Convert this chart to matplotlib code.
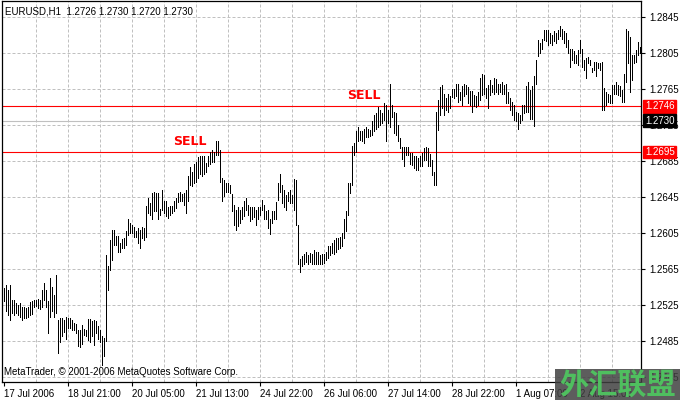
import matplotlib
matplotlib.use("Agg")
import matplotlib.pyplot as plt
import matplotlib.transforms as mtransforms
from matplotlib.patches import Rectangle
import numpy as np

plt.rcParams['font.family'] = ['Liberation Sans', 'DejaVu Sans']
plt.rcParams['font.size'] = 7

# EURUSD H1 bars (high / low), 17 Jul 2006 - 2 Aug 2006
highs = [
    1.2544, 1.2547, 1.2542, 1.2547, 1.2531, 1.2531, 1.2527, 1.2525, 1.2527, 1.2523,
    1.2523, 1.2522, 1.2523, 1.2528, 1.2529, 1.2530, 1.2531, 1.2532, 1.2530, 1.2542,
    1.2549, 1.2542, 1.2529, 1.2555, 1.2545, 1.2536, 1.2558, 1.2508, 1.2510, 1.2510,
    1.2508, 1.2512, 1.2510, 1.2510, 1.2508, 1.2505, 1.2504, 1.2497, 1.2497, 1.2503,
    1.2498, 1.2497, 1.2509, 1.2509, 1.2507, 1.2508, 1.2507, 1.2502, 1.2497, 1.2490,
    1.2488, 1.2580, 1.2568, 1.2597, 1.2608, 1.2608, 1.2602, 1.2602, 1.2594, 1.2598,
    1.2599, 1.2607, 1.2620, 1.2616, 1.2614, 1.2612, 1.2607, 1.2610, 1.2608, 1.2612,
    1.2610, 1.2635, 1.2644, 1.2638, 1.2649, 1.2651, 1.2649, 1.2649, 1.2632, 1.2653,
    1.2640, 1.2640, 1.2634, 1.2635, 1.2635, 1.2640, 1.2644, 1.2649, 1.2650, 1.2648,
    1.2649, 1.2653, 1.2668, 1.2678, 1.2673, 1.2682, 1.2684, 1.2689, 1.2690, 1.2690,
    1.2690, 1.2683, 1.2690, 1.2695, 1.2697, 1.2695, 1.2707, 1.2707, 1.2697, 1.2666,
    1.2664, 1.2661, 1.2660, 1.2658, 1.2648, 1.2636, 1.2631, 1.2634, 1.2631, 1.2634,
    1.2640, 1.2644, 1.2636, 1.2634, 1.2634, 1.2634, 1.2631, 1.2634, 1.2634, 1.2642,
    1.2636, 1.2629, 1.2631, 1.2621, 1.2629, 1.2629, 1.2639, 1.2661, 1.2670, 1.2658,
    1.2653, 1.2647, 1.2651, 1.2653, 1.2647, 1.2665, 1.2664, 1.2614, 1.2576, 1.2579,
    1.2582, 1.2584, 1.2581, 1.2583, 1.2582, 1.2586, 1.2584, 1.2584, 1.2581, 1.2582,
    1.2582, 1.2584, 1.2590, 1.2590, 1.2594, 1.2597, 1.2599, 1.2599, 1.2601, 1.2605,
    1.2620, 1.2629, 1.2660, 1.2660, 1.2702, 1.2705, 1.2718, 1.2723, 1.2718, 1.2718,
    1.2721, 1.2723, 1.2721, 1.2719, 1.2729, 1.2736, 1.2738, 1.2745, 1.2742, 1.2738,
    1.2749, 1.2747, 1.2742, 1.2771, 1.2747, 1.2740, 1.2738, 1.2725, 1.2710, 1.2701,
    1.2700, 1.2701, 1.2701, 1.2694, 1.2694, 1.2690, 1.2690, 1.2688, 1.2690, 1.2694,
    1.2699, 1.2700, 1.2699, 1.2693, 1.2686, 1.2673, 1.2740, 1.2753, 1.2767, 1.2769,
    1.2760, 1.2755, 1.2759, 1.2757, 1.2765, 1.2765, 1.2771, 1.2771, 1.2762, 1.2768,
    1.2771, 1.2769, 1.2767, 1.2763, 1.2763, 1.2758, 1.2757, 1.2762, 1.2777, 1.2782,
    1.2781, 1.2766, 1.2770, 1.2775, 1.2770, 1.2777, 1.2776, 1.2771, 1.2771, 1.2773,
    1.2770, 1.2771, 1.2762, 1.2755, 1.2751, 1.2747, 1.2740, 1.2738, 1.2736, 1.2747,
    1.2747, 1.2768, 1.2773, 1.2764, 1.2768, 1.2779, 1.2797, 1.2819, 1.2816, 1.2821,
    1.2831, 1.2831, 1.2831, 1.2827, 1.2825, 1.2829, 1.2827, 1.2831, 1.2835, 1.2832,
    1.2829, 1.2827, 1.2820, 1.2810, 1.2809, 1.2807, 1.2803, 1.2808, 1.2820, 1.2810,
    1.2797, 1.2799, 1.2801, 1.2797, 1.2788, 1.2795, 1.2795, 1.2794, 1.2794, 1.2795,
    1.2766, 1.2762, 1.2760, 1.2758, 1.2770, 1.2770, 1.2773, 1.2770, 1.2768, 1.2764,
    1.2782, 1.2832, 1.2829, 1.2823, 1.2803, 1.2803, 1.2808, 1.2817, 1.2812,
]
lows = [
    1.2529, 1.2518, 1.2514, 1.2508, 1.2516, 1.2514, 1.2516, 1.2514, 1.2512, 1.2508,
    1.2510, 1.2510, 1.2512, 1.2514, 1.2515, 1.2523, 1.2524, 1.2522, 1.2521, 1.2523,
    1.2531, 1.2523, 1.2494, 1.2512, 1.2518, 1.2512, 1.2516, 1.2472, 1.2484, 1.2490,
    1.2495, 1.2487, 1.2499, 1.2499, 1.2497, 1.2497, 1.2494, 1.2479, 1.2478, 1.2482,
    1.2492, 1.2491, 1.2486, 1.2484, 1.2490, 1.2480, 1.2494, 1.2487, 1.2484, 1.2458,
    1.2468, 1.2485, 1.2542, 1.2564, 1.2575, 1.2592, 1.2592, 1.2584, 1.2584, 1.2588,
    1.2588, 1.2592, 1.2603, 1.2605, 1.2605, 1.2601, 1.2601, 1.2594, 1.2588, 1.2599,
    1.2597, 1.2601, 1.2627, 1.2625, 1.2620, 1.2629, 1.2629, 1.2620, 1.2625, 1.2631,
    1.2627, 1.2624, 1.2622, 1.2625, 1.2627, 1.2629, 1.2633, 1.2639, 1.2641, 1.2641,
    1.2636, 1.2627, 1.2640, 1.2658, 1.2657, 1.2660, 1.2662, 1.2666, 1.2671, 1.2668,
    1.2671, 1.2673, 1.2679, 1.2682, 1.2684, 1.2684, 1.2692, 1.2692, 1.2662, 1.2640,
    1.2646, 1.2650, 1.2651, 1.2649, 1.2629, 1.2614, 1.2608, 1.2613, 1.2616, 1.2620,
    1.2624, 1.2631, 1.2625, 1.2618, 1.2621, 1.2623, 1.2614, 1.2620, 1.2625, 1.2631,
    1.2620, 1.2620, 1.2610, 1.2604, 1.2616, 1.2620, 1.2620, 1.2642, 1.2651, 1.2638,
    1.2634, 1.2631, 1.2640, 1.2638, 1.2638, 1.2631, 1.2614, 1.2570, 1.2562, 1.2568,
    1.2570, 1.2573, 1.2571, 1.2573, 1.2571, 1.2571, 1.2570, 1.2571, 1.2571, 1.2571,
    1.2572, 1.2575, 1.2577, 1.2581, 1.2583, 1.2582, 1.2584, 1.2587, 1.2588, 1.2590,
    1.2599, 1.2607, 1.2625, 1.2649, 1.2658, 1.2692, 1.2695, 1.2707, 1.2708, 1.2707,
    1.2705, 1.2712, 1.2712, 1.2713, 1.2714, 1.2718, 1.2721, 1.2723, 1.2725, 1.2727,
    1.2731, 1.2707, 1.2727, 1.2723, 1.2734, 1.2716, 1.2714, 1.2707, 1.2699, 1.2687,
    1.2679, 1.2692, 1.2692, 1.2682, 1.2681, 1.2677, 1.2675, 1.2675, 1.2679, 1.2679,
    1.2686, 1.2686, 1.2679, 1.2679, 1.2669, 1.2658, 1.2658, 1.2719, 1.2736, 1.2744,
    1.2736, 1.2742, 1.2740, 1.2744, 1.2756, 1.2755, 1.2757, 1.2751, 1.2753, 1.2747,
    1.2757, 1.2760, 1.2750, 1.2747, 1.2740, 1.2746, 1.2745, 1.2747, 1.2753, 1.2758,
    1.2760, 1.2755, 1.2744, 1.2758, 1.2762, 1.2760, 1.2762, 1.2760, 1.2762, 1.2760,
    1.2760, 1.2750, 1.2749, 1.2742, 1.2736, 1.2731, 1.2729, 1.2720, 1.2727, 1.2731,
    1.2738, 1.2740, 1.2740, 1.2732, 1.2732, 1.2724, 1.2771, 1.2802, 1.2805, 1.2810,
    1.2820, 1.2818, 1.2814, 1.2816, 1.2814, 1.2818, 1.2816, 1.2821, 1.2824, 1.2821,
    1.2816, 1.2812, 1.2805, 1.2790, 1.2797, 1.2794, 1.2794, 1.2792, 1.2805, 1.2790,
    1.2786, 1.2777, 1.2794, 1.2792, 1.2784, 1.2786, 1.2779, 1.2788, 1.2786, 1.2742,
    1.2742, 1.2747, 1.2751, 1.2749, 1.2749, 1.2760, 1.2760, 1.2758, 1.2757, 1.2751,
    1.2751, 1.2773, 1.2794, 1.2762, 1.2775, 1.2794, 1.2795, 1.2803, 1.2805,
]

time_labels = ['17 Jul 2006', '18 Jul 21:00', '20 Jul 05:00', '21 Jul 13:00',
               '24 Jul 22:00', '26 Jul 06:00', '27 Jul 14:00', '28 Jul 22:00',
               '1 Aug 07:00', '2 Aug 15:00']
price_ticks = [1.2445, 1.2485, 1.2525, 1.2565, 1.2605, 1.2645, 1.2685,
               1.2725, 1.2765, 1.2805, 1.2845]

sell_levels = [1.2695, 1.2746]
sell_bars = [85, 172]
bid_price = 1.2730
header = "EURUSD,H1  1.2726 1.2730 1.2720 1.2730"
footer = "MetaTrader, \u00a9 2001-2006 MetaQuotes Software Corp."

W, H = 680, 400
fig = plt.figure(figsize=(W / 100, H / 100), dpi=100)
fig.patch.set_facecolor('white')
ax = fig.add_axes([2 / W, 1 - 382 / H, 639 / W, 381 / H])

n = len(highs)
idx = np.arange(n)

# grid
for p in price_ticks:
    ax.axhline(p, color='#c0c0c0', lw=0.72, ls=(0, (3, 2)), zorder=0)
for g in range(16, n + 1, 16):
    ax.axvline(g, color='#c0c0c0', lw=0.72, ls=(0, (3, 2)), zorder=0)

# bid line and sell levels
ax.axhline(bid_price, color='#c0c0c0', lw=0.8, zorder=1)
for lvl in sell_levels:
    ax.axhline(lvl, color='red', lw=0.8, zorder=1)

ax.vlines(idx, lows, highs, color='black', lw=0.72, zorder=2, antialiased=False)

for b, lvl in zip(sell_bars, sell_levels):
    ax.text(b, lvl + 0.00045, 'SELL', color='red', fontsize=9, fontweight='bold',
            family='DejaVu Sans', ha='left', va='bottom')

# bar i sits on pixel column 3 + 2*i
ax.set_xlim(-0.75, 318.75)
ax.set_ylim(1.243944, 1.286278)

ax.set_xticks(range(0, 32 * len(time_labels), 32))
ax.set_xticklabels(time_labels, ha='left')
ax.yaxis.tick_right()
ax.set_yticks(price_ticks)
ax.set_yticklabels(['%.4f' % p for p in price_ticks])
ax.tick_params(axis='both', length=3, width=0.8, direction='out', colors='black',
               labelsize=7)
ax.tick_params(axis='x', pad=2)
ax.tick_params(axis='y', pad=3)
for s in ax.spines.values():
    s.set_linewidth(0.9)

# price boxes on the right axis
trans = mtransforms.blended_transform_factory(ax.transAxes, ax.transData)
for lvl in sell_levels:
    ax.text(1.006, lvl, '%.4f' % lvl, transform=trans, color='white', fontsize=7,
            va='center', ha='left', clip_on=False, zorder=5,
            bbox=dict(boxstyle='square,pad=0.15', fc='red', ec='red'))
ax.text(1.006, bid_price, '%.4f' % bid_price, transform=trans, color='white',
        fontsize=7, va='center', ha='left', clip_on=False, zorder=5,
        bbox=dict(boxstyle='square,pad=0.15', fc='black', ec='black'))

ax.text(0.005, 0.985, header, transform=ax.transAxes, fontsize=7, va='top', ha='left')
ax.text(0.003, 0.012, footer, transform=ax.transAxes, fontsize=7, va='bottom', ha='left')

# watermark
fig.patches.append(Rectangle((555 / W, 0), 125 / W, 31 / H, transform=fig.transFigure,
                             facecolor='#404040', alpha=0.85, edgecolor='none', zorder=10))
fig.text(618 / W, 15 / H, '外汇联盟', color='#4fbf5f', fontsize=21, fontweight='bold',
         family=['Noto Sans CJK SC', 'DejaVu Sans'], ha='center', va='center', zorder=11)

fig.savefig('out.png', dpi=100)
